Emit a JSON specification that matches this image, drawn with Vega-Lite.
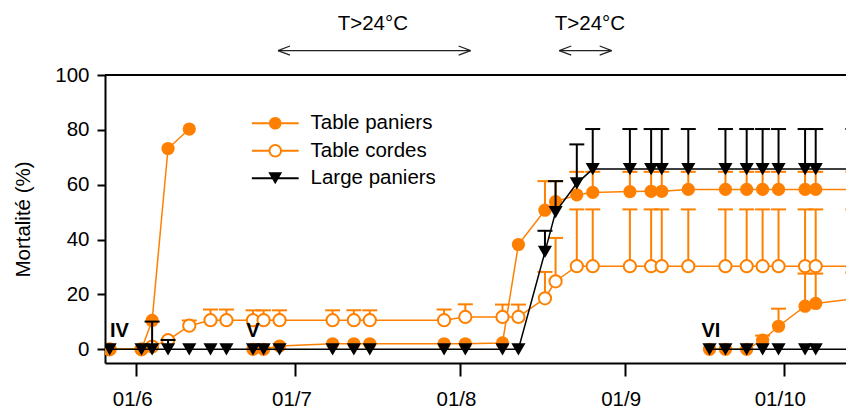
{
  "$schema": "https://vega.github.io/schema/vega-lite/v6.json",
  "width": 741,
  "height": 288,
  "autosize": {"type": "none"},
  "padding": {"left": 105, "top": 75, "right": 0, "bottom": 46},
  "background": "white",
  "config": {
    "view": {"stroke": null},
    "font": "Liberation Sans",
    "axis": {"grid": false, "domainColor": "black", "domainWidth": 2, "tickColor": "black", "tickWidth": 2, "labelFont": "Liberation Sans", "labelFontSize": 20.5, "labelColor": "black", "labelFlush": false, "titleFont": "Liberation Sans", "titleFontSize": 20.5, "titleFontWeight": "normal", "titleColor": "black"},
    "axisX": {"tickSize": 13, "labelPadding": 13, "labelOffset": -4},
    "axisY": {"tickSize": 8, "labelPadding": 8, "titleX": -82, "titleY": 144, "titleAngle": -90, "titleAlign": "center", "titleBaseline": "middle"}
  },
  "datasets": {
    "pts": [
      {"series": "Table paniers", "batch": "P4", "date": "2008-05-27", "value": 0},
      {"series": "Table paniers", "batch": "P4", "date": "2008-06-02", "value": 0},
      {"series": "Table paniers", "batch": "P4", "date": "2008-06-04", "value": 10.5},
      {"series": "Table paniers", "batch": "P4", "date": "2008-06-07", "value": 73.2},
      {"series": "Table paniers", "batch": "P4", "date": "2008-06-11", "value": 80.3},
      {"series": "Table paniers", "batch": "P5", "date": "2008-06-23", "value": 0},
      {"series": "Table paniers", "batch": "P5", "date": "2008-06-25", "value": 0},
      {"series": "Table paniers", "batch": "P5", "date": "2008-06-28", "value": 1.2},
      {"series": "Table paniers", "batch": "P5", "date": "2008-07-08", "value": 2},
      {"series": "Table paniers", "batch": "P5", "date": "2008-07-12", "value": 2},
      {"series": "Table paniers", "batch": "P5", "date": "2008-07-15", "value": 2},
      {"series": "Table paniers", "batch": "P5", "date": "2008-07-29", "value": 2},
      {"series": "Table paniers", "batch": "P5", "date": "2008-08-02", "value": 2},
      {"series": "Table paniers", "batch": "P5", "date": "2008-08-09", "value": 2.3},
      {"series": "Table paniers", "batch": "P5", "date": "2008-08-12", "value": 38.2},
      {"series": "Table paniers", "batch": "P5", "date": "2008-08-17", "value": 50.7, "upper": 61.3},
      {"series": "Table paniers", "batch": "P5", "date": "2008-08-19", "value": 53.8, "upper": 61.3},
      {"series": "Table paniers", "batch": "P5", "date": "2008-08-23", "value": 56.3, "upper": 64.7},
      {"series": "Table paniers", "batch": "P5", "date": "2008-08-26", "value": 57.2, "upper": 64.7},
      {"series": "Table paniers", "batch": "P5", "date": "2008-09-02", "value": 57.5, "upper": 64.7},
      {"series": "Table paniers", "batch": "P5", "date": "2008-09-06", "value": 57.6, "upper": 64.7},
      {"series": "Table paniers", "batch": "P5", "date": "2008-09-08", "value": 57.6, "upper": 64.7},
      {"series": "Table paniers", "batch": "P5", "date": "2008-09-13", "value": 58.3, "upper": 64.7},
      {"series": "Table paniers", "batch": "P5", "date": "2008-09-20", "value": 58.3, "upper": 64.7},
      {"series": "Table paniers", "batch": "P5", "date": "2008-09-24", "value": 58.3, "upper": 64.7},
      {"series": "Table paniers", "batch": "P5", "date": "2008-09-27", "value": 58.3, "upper": 64.7},
      {"series": "Table paniers", "batch": "P5", "date": "2008-09-30", "value": 58.3, "upper": 64.7},
      {"series": "Table paniers", "batch": "P5", "date": "2008-10-05", "value": 58.3, "upper": 64.7},
      {"series": "Table paniers", "batch": "P5", "date": "2008-10-07", "value": 58.3, "upper": 64.7},
      {"series": "Table paniers", "batch": "P5", "date": "2008-10-14", "value": 58.3, "upper": 64.7},
      {"series": "Table paniers", "batch": "P6", "date": "2008-09-17", "value": 0},
      {"series": "Table paniers", "batch": "P6", "date": "2008-09-20", "value": 0},
      {"series": "Table paniers", "batch": "P6", "date": "2008-09-24", "value": 0},
      {"series": "Table paniers", "batch": "P6", "date": "2008-09-27", "value": 3.3, "upper": 5},
      {"series": "Table paniers", "batch": "P6", "date": "2008-09-30", "value": 8.4, "upper": 14.8},
      {"series": "Table paniers", "batch": "P6", "date": "2008-10-05", "value": 15.7, "upper": 27.6},
      {"series": "Table paniers", "batch": "P6", "date": "2008-10-07", "value": 16.7, "upper": 27.6},
      {"series": "Table paniers", "batch": "P6", "date": "2008-10-14", "value": 18.4, "upper": 28},
      {"series": "Table cordes", "batch": "C", "date": "2008-05-27", "value": 0},
      {"series": "Table cordes", "batch": "C", "date": "2008-06-02", "value": 0},
      {"series": "Table cordes", "batch": "C", "date": "2008-06-04", "value": 1},
      {"series": "Table cordes", "batch": "C", "date": "2008-06-07", "value": 3.3},
      {"series": "Table cordes", "batch": "C", "date": "2008-06-11", "value": 8.6, "upper": 10.5},
      {"series": "Table cordes", "batch": "C", "date": "2008-06-15", "value": 10.6, "upper": 14.5},
      {"series": "Table cordes", "batch": "C", "date": "2008-06-18", "value": 10.6, "upper": 14.5},
      {"series": "Table cordes", "batch": "C", "date": "2008-06-23", "value": 10.6, "upper": 14.2},
      {"series": "Table cordes", "batch": "C", "date": "2008-06-25", "value": 10.6, "upper": 14.2},
      {"series": "Table cordes", "batch": "C", "date": "2008-06-28", "value": 10.6, "upper": 14.2},
      {"series": "Table cordes", "batch": "C", "date": "2008-07-08", "value": 10.6, "upper": 14.2},
      {"series": "Table cordes", "batch": "C", "date": "2008-07-12", "value": 10.6, "upper": 14.2},
      {"series": "Table cordes", "batch": "C", "date": "2008-07-15", "value": 10.6, "upper": 14.2},
      {"series": "Table cordes", "batch": "C", "date": "2008-07-29", "value": 10.6, "upper": 14.5},
      {"series": "Table cordes", "batch": "C", "date": "2008-08-02", "value": 11.8, "upper": 16.4},
      {"series": "Table cordes", "batch": "C", "date": "2008-08-09", "value": 11.8, "upper": 16.3},
      {"series": "Table cordes", "batch": "C", "date": "2008-08-12", "value": 11.8, "upper": 16.3},
      {"series": "Table cordes", "batch": "C", "date": "2008-08-17", "value": 18.6, "upper": 28.2},
      {"series": "Table cordes", "batch": "C", "date": "2008-08-19", "value": 24.8, "upper": 40.6},
      {"series": "Table cordes", "batch": "C", "date": "2008-08-23", "value": 30.3, "upper": 51},
      {"series": "Table cordes", "batch": "C", "date": "2008-08-26", "value": 30.3, "upper": 51},
      {"series": "Table cordes", "batch": "C", "date": "2008-09-02", "value": 30.3, "upper": 51},
      {"series": "Table cordes", "batch": "C", "date": "2008-09-06", "value": 30.3, "upper": 51},
      {"series": "Table cordes", "batch": "C", "date": "2008-09-08", "value": 30.3, "upper": 51},
      {"series": "Table cordes", "batch": "C", "date": "2008-09-13", "value": 30.3, "upper": 51},
      {"series": "Table cordes", "batch": "C", "date": "2008-09-20", "value": 30.3, "upper": 51},
      {"series": "Table cordes", "batch": "C", "date": "2008-09-24", "value": 30.3, "upper": 51},
      {"series": "Table cordes", "batch": "C", "date": "2008-09-27", "value": 30.3, "upper": 51},
      {"series": "Table cordes", "batch": "C", "date": "2008-09-30", "value": 30.3, "upper": 51},
      {"series": "Table cordes", "batch": "C", "date": "2008-10-05", "value": 30.3, "upper": 51},
      {"series": "Table cordes", "batch": "C", "date": "2008-10-07", "value": 30.3, "upper": 51},
      {"series": "Table cordes", "batch": "C", "date": "2008-10-14", "value": 30.3, "upper": 51},
      {"series": "Large paniers", "batch": "L", "date": "2008-05-27", "value": 0},
      {"series": "Large paniers", "batch": "L", "date": "2008-06-02", "value": 0},
      {"series": "Large paniers", "batch": "L", "date": "2008-06-04", "value": 0, "upper": 10.1},
      {"series": "Large paniers", "batch": "L", "date": "2008-06-07", "value": 0, "upper": 3.4},
      {"series": "Large paniers", "batch": "L", "date": "2008-06-11", "value": 0},
      {"series": "Large paniers", "batch": "L", "date": "2008-06-15", "value": 0},
      {"series": "Large paniers", "batch": "L", "date": "2008-06-18", "value": 0},
      {"series": "Large paniers", "batch": "L", "date": "2008-06-23", "value": 0},
      {"series": "Large paniers", "batch": "L", "date": "2008-06-25", "value": 0},
      {"series": "Large paniers", "batch": "L", "date": "2008-06-28", "value": 0},
      {"series": "Large paniers", "batch": "L", "date": "2008-07-08", "value": 0},
      {"series": "Large paniers", "batch": "L", "date": "2008-07-12", "value": 0},
      {"series": "Large paniers", "batch": "L", "date": "2008-07-15", "value": 0},
      {"series": "Large paniers", "batch": "L", "date": "2008-07-29", "value": 0},
      {"series": "Large paniers", "batch": "L", "date": "2008-08-02", "value": 0},
      {"series": "Large paniers", "batch": "L", "date": "2008-08-09", "value": 0},
      {"series": "Large paniers", "batch": "L", "date": "2008-08-12", "value": 0},
      {"series": "Large paniers", "batch": "L", "date": "2008-08-17", "value": 35.5, "upper": 43.2},
      {"series": "Large paniers", "batch": "L", "date": "2008-08-19", "value": 50, "upper": 61.3},
      {"series": "Large paniers", "batch": "L", "date": "2008-08-23", "value": 60.5, "upper": 74.7},
      {"series": "Large paniers", "batch": "L", "date": "2008-08-26", "value": 65.7, "upper": 80.3},
      {"series": "Large paniers", "batch": "L", "date": "2008-09-02", "value": 65.7, "upper": 80.3},
      {"series": "Large paniers", "batch": "L", "date": "2008-09-06", "value": 65.7, "upper": 80.3},
      {"series": "Large paniers", "batch": "L", "date": "2008-09-08", "value": 65.7, "upper": 80.3},
      {"series": "Large paniers", "batch": "L", "date": "2008-09-13", "value": 65.7, "upper": 80.3},
      {"series": "Large paniers", "batch": "L", "date": "2008-09-20", "value": 65.7, "upper": 80.3},
      {"series": "Large paniers", "batch": "L", "date": "2008-09-24", "value": 65.7, "upper": 80.3},
      {"series": "Large paniers", "batch": "L", "date": "2008-09-27", "value": 65.7, "upper": 80.3},
      {"series": "Large paniers", "batch": "L", "date": "2008-09-30", "value": 65.7, "upper": 80.3},
      {"series": "Large paniers", "batch": "L", "date": "2008-10-05", "value": 65.7, "upper": 80.3},
      {"series": "Large paniers", "batch": "L", "date": "2008-10-07", "value": 65.7, "upper": 80.3},
      {"series": "Large paniers", "batch": "L", "date": "2008-10-14", "value": 65.7, "upper": 80.3},
      {"series": "Large paniers", "batch": "L6", "date": "2008-09-17", "value": 0},
      {"series": "Large paniers", "batch": "L6", "date": "2008-09-20", "value": 0},
      {"series": "Large paniers", "batch": "L6", "date": "2008-09-24", "value": 0},
      {"series": "Large paniers", "batch": "L6", "date": "2008-09-27", "value": 0},
      {"series": "Large paniers", "batch": "L6", "date": "2008-09-30", "value": 0},
      {"series": "Large paniers", "batch": "L6", "date": "2008-10-05", "value": 0},
      {"series": "Large paniers", "batch": "L6", "date": "2008-10-07", "value": 0},
      {"series": "Large paniers", "batch": "L6", "date": "2008-10-14", "value": 0}
    ],
    "arrows": [
      {"start": "2008-06-27T17:00:00Z", "end": "2008-08-03T00:00:00Z", "value": 108.9},
      {"start": "2008-08-19T16:30:00Z", "end": "2008-08-29T13:40:00Z", "value": 108.9}
    ],
    "notes": [
      {"kind": "temp", "date": "2008-07-15T14:00:00Z", "value": 116.4, "text": "T>24°C"},
      {"kind": "temp", "date": "2008-08-25T11:30:00Z", "value": 116.4, "text": "T>24°C"},
      {"kind": "batch", "date": "2008-05-28T20:00:00Z", "value": 4.6, "text": "IV"},
      {"kind": "batch", "date": "2008-06-23T00:00:00Z", "value": 4.6, "text": "V"},
      {"kind": "batch", "date": "2008-09-17T06:00:00Z", "value": 4.6, "text": "VI"}
    ]
  },
  "layer": [
    {
      "data": {"name": "pts"},
      "mark": {"type": "rule", "color": "black", "strokeWidth": 2},
      "encoding": {
        "y": {"datum": 100, "type": "quantitative", "scale": {"domain": [-5, 100], "nice": false, "zero": false}, "axis": {"values": [0, 20, 40, 60, 80, 100], "title": "Mortalité (%)"}}
      }
    },
    {
      "data": {"name": "pts"},
      "transform": [{"filter": "datum.series != 'Large paniers' && isValid(datum.upper)"}],
      "mark": {"type": "rule", "color": "#ff8000", "strokeWidth": 2, "clip": true},
      "encoding": {
        "x": {"field": "date", "type": "temporal", "scale": {"type": "utc", "domain": [{"year": 2008, "month": 5, "date": 26, "hours": 3, "utc": true}, {"year": 2008, "month": 10, "date": 12, "hours": 17, "utc": true}]}, "axis": {"values": [{"year": 2008, "month": 6, "date": 1, "utc": true}, {"year": 2008, "month": 7, "date": 1, "utc": true}, {"year": 2008, "month": 8, "date": 1, "utc": true}, {"year": 2008, "month": 9, "date": 1, "utc": true}, {"year": 2008, "month": 10, "date": 1, "utc": true}], "format": "%d/%-m", "title": null}},
        "y": {"field": "value", "type": "quantitative", "scale": {"domain": [-5, 100], "nice": false, "zero": false}, "axis": {"values": [0, 20, 40, 60, 80, 100], "title": "Mortalité (%)"}},
        "y2": {"field": "upper"}
      }
    },
    {
      "data": {"name": "pts"},
      "transform": [{"filter": "datum.series != 'Large paniers' && isValid(datum.upper)"}],
      "mark": {"type": "tick", "orient": "horizontal", "color": "#ff8000", "size": 15, "thickness": 2, "opacity": 1, "clip": true},
      "encoding": {
        "x": {"field": "date", "type": "temporal", "scale": {"type": "utc", "domain": [{"year": 2008, "month": 5, "date": 26, "hours": 3, "utc": true}, {"year": 2008, "month": 10, "date": 12, "hours": 17, "utc": true}]}, "axis": {"values": [{"year": 2008, "month": 6, "date": 1, "utc": true}, {"year": 2008, "month": 7, "date": 1, "utc": true}, {"year": 2008, "month": 8, "date": 1, "utc": true}, {"year": 2008, "month": 9, "date": 1, "utc": true}, {"year": 2008, "month": 10, "date": 1, "utc": true}], "format": "%d/%-m", "title": null}},
        "y": {"field": "upper", "type": "quantitative", "scale": {"domain": [-5, 100], "nice": false, "zero": false}, "axis": {"values": [0, 20, 40, 60, 80, 100], "title": "Mortalité (%)"}}
      }
    },
    {
      "data": {"name": "pts"},
      "transform": [{"filter": "datum.series != 'Large paniers'"}],
      "mark": {"type": "line", "color": "#ff8000", "strokeWidth": 1.5, "clip": true},
      "encoding": {
        "x": {"field": "date", "type": "temporal", "scale": {"type": "utc", "domain": [{"year": 2008, "month": 5, "date": 26, "hours": 3, "utc": true}, {"year": 2008, "month": 10, "date": 12, "hours": 17, "utc": true}]}, "axis": {"values": [{"year": 2008, "month": 6, "date": 1, "utc": true}, {"year": 2008, "month": 7, "date": 1, "utc": true}, {"year": 2008, "month": 8, "date": 1, "utc": true}, {"year": 2008, "month": 9, "date": 1, "utc": true}, {"year": 2008, "month": 10, "date": 1, "utc": true}], "format": "%d/%-m", "title": null}},
        "y": {"field": "value", "type": "quantitative", "scale": {"domain": [-5, 100], "nice": false, "zero": false}, "axis": {"values": [0, 20, 40, 60, 80, 100], "title": "Mortalité (%)"}},
        "detail": {"field": "batch"}
      }
    },
    {
      "data": {"name": "pts"},
      "transform": [{"filter": "datum.series == 'Table cordes'"}],
      "mark": {"type": "point", "shape": "circle", "filled": true, "fill": "white", "stroke": "#ff8000", "strokeWidth": 2, "size": 150, "opacity": 1, "clip": true},
      "encoding": {
        "x": {"field": "date", "type": "temporal", "scale": {"type": "utc", "domain": [{"year": 2008, "month": 5, "date": 26, "hours": 3, "utc": true}, {"year": 2008, "month": 10, "date": 12, "hours": 17, "utc": true}]}, "axis": {"values": [{"year": 2008, "month": 6, "date": 1, "utc": true}, {"year": 2008, "month": 7, "date": 1, "utc": true}, {"year": 2008, "month": 8, "date": 1, "utc": true}, {"year": 2008, "month": 9, "date": 1, "utc": true}, {"year": 2008, "month": 10, "date": 1, "utc": true}], "format": "%d/%-m", "title": null}},
        "y": {"field": "value", "type": "quantitative", "scale": {"domain": [-5, 100], "nice": false, "zero": false}, "axis": {"values": [0, 20, 40, 60, 80, 100], "title": "Mortalité (%)"}}
      }
    },
    {
      "data": {"name": "pts"},
      "transform": [{"filter": "datum.series == 'Table paniers'"}],
      "mark": {"type": "point", "shape": "circle", "filled": true, "color": "#ff8000", "size": 175, "opacity": 1, "clip": true},
      "encoding": {
        "x": {"field": "date", "type": "temporal", "scale": {"type": "utc", "domain": [{"year": 2008, "month": 5, "date": 26, "hours": 3, "utc": true}, {"year": 2008, "month": 10, "date": 12, "hours": 17, "utc": true}]}, "axis": {"values": [{"year": 2008, "month": 6, "date": 1, "utc": true}, {"year": 2008, "month": 7, "date": 1, "utc": true}, {"year": 2008, "month": 8, "date": 1, "utc": true}, {"year": 2008, "month": 9, "date": 1, "utc": true}, {"year": 2008, "month": 10, "date": 1, "utc": true}], "format": "%d/%-m", "title": null}},
        "y": {"field": "value", "type": "quantitative", "scale": {"domain": [-5, 100], "nice": false, "zero": false}, "axis": {"values": [0, 20, 40, 60, 80, 100], "title": "Mortalité (%)"}}
      }
    },
    {
      "data": {"name": "pts"},
      "transform": [{"filter": "datum.series == 'Large paniers' && isValid(datum.upper)"}],
      "mark": {"type": "rule", "color": "black", "strokeWidth": 2, "clip": true},
      "encoding": {
        "x": {"field": "date", "type": "temporal", "scale": {"type": "utc", "domain": [{"year": 2008, "month": 5, "date": 26, "hours": 3, "utc": true}, {"year": 2008, "month": 10, "date": 12, "hours": 17, "utc": true}]}, "axis": {"values": [{"year": 2008, "month": 6, "date": 1, "utc": true}, {"year": 2008, "month": 7, "date": 1, "utc": true}, {"year": 2008, "month": 8, "date": 1, "utc": true}, {"year": 2008, "month": 9, "date": 1, "utc": true}, {"year": 2008, "month": 10, "date": 1, "utc": true}], "format": "%d/%-m", "title": null}},
        "y": {"field": "value", "type": "quantitative", "scale": {"domain": [-5, 100], "nice": false, "zero": false}, "axis": {"values": [0, 20, 40, 60, 80, 100], "title": "Mortalité (%)"}},
        "y2": {"field": "upper"}
      }
    },
    {
      "data": {"name": "pts"},
      "transform": [{"filter": "datum.series == 'Large paniers' && isValid(datum.upper)"}],
      "mark": {"type": "tick", "orient": "horizontal", "color": "black", "size": 15, "thickness": 2, "opacity": 1, "clip": true},
      "encoding": {
        "x": {"field": "date", "type": "temporal", "scale": {"type": "utc", "domain": [{"year": 2008, "month": 5, "date": 26, "hours": 3, "utc": true}, {"year": 2008, "month": 10, "date": 12, "hours": 17, "utc": true}]}, "axis": {"values": [{"year": 2008, "month": 6, "date": 1, "utc": true}, {"year": 2008, "month": 7, "date": 1, "utc": true}, {"year": 2008, "month": 8, "date": 1, "utc": true}, {"year": 2008, "month": 9, "date": 1, "utc": true}, {"year": 2008, "month": 10, "date": 1, "utc": true}], "format": "%d/%-m", "title": null}},
        "y": {"field": "upper", "type": "quantitative", "scale": {"domain": [-5, 100], "nice": false, "zero": false}, "axis": {"values": [0, 20, 40, 60, 80, 100], "title": "Mortalité (%)"}}
      }
    },
    {
      "data": {"name": "pts"},
      "transform": [{"filter": "datum.series == 'Large paniers'"}],
      "mark": {"type": "line", "color": "black", "strokeWidth": 1.5, "clip": true},
      "encoding": {
        "x": {"field": "date", "type": "temporal", "scale": {"type": "utc", "domain": [{"year": 2008, "month": 5, "date": 26, "hours": 3, "utc": true}, {"year": 2008, "month": 10, "date": 12, "hours": 17, "utc": true}]}, "axis": {"values": [{"year": 2008, "month": 6, "date": 1, "utc": true}, {"year": 2008, "month": 7, "date": 1, "utc": true}, {"year": 2008, "month": 8, "date": 1, "utc": true}, {"year": 2008, "month": 9, "date": 1, "utc": true}, {"year": 2008, "month": 10, "date": 1, "utc": true}], "format": "%d/%-m", "title": null}},
        "y": {"field": "value", "type": "quantitative", "scale": {"domain": [-5, 100], "nice": false, "zero": false}, "axis": {"values": [0, 20, 40, 60, 80, 100], "title": "Mortalité (%)"}},
        "detail": {"field": "batch"}
      }
    },
    {
      "data": {"name": "pts"},
      "transform": [{"filter": "datum.series == 'Large paniers'"}],
      "mark": {"type": "point", "shape": "triangle-down", "filled": true, "color": "black", "size": 200, "opacity": 1, "clip": true},
      "encoding": {
        "x": {"field": "date", "type": "temporal", "scale": {"type": "utc", "domain": [{"year": 2008, "month": 5, "date": 26, "hours": 3, "utc": true}, {"year": 2008, "month": 10, "date": 12, "hours": 17, "utc": true}]}, "axis": {"values": [{"year": 2008, "month": 6, "date": 1, "utc": true}, {"year": 2008, "month": 7, "date": 1, "utc": true}, {"year": 2008, "month": 8, "date": 1, "utc": true}, {"year": 2008, "month": 9, "date": 1, "utc": true}, {"year": 2008, "month": 10, "date": 1, "utc": true}], "format": "%d/%-m", "title": null}},
        "y": {"field": "value", "type": "quantitative", "scale": {"domain": [-5, 100], "nice": false, "zero": false}, "axis": {"values": [0, 20, 40, 60, 80, 100], "title": "Mortalité (%)"}}
      }
    },
    {
      "data": {"name": "pts"},
      "mark": {"type": "point", "filled": true, "opacity": 1, "size": 0, "clip": true},
      "encoding": {
        "x": {"field": "date", "type": "temporal", "scale": {"type": "utc", "domain": [{"year": 2008, "month": 5, "date": 26, "hours": 3, "utc": true}, {"year": 2008, "month": 10, "date": 12, "hours": 17, "utc": true}]}, "axis": {"values": [{"year": 2008, "month": 6, "date": 1, "utc": true}, {"year": 2008, "month": 7, "date": 1, "utc": true}, {"year": 2008, "month": 8, "date": 1, "utc": true}, {"year": 2008, "month": 9, "date": 1, "utc": true}, {"year": 2008, "month": 10, "date": 1, "utc": true}], "format": "%d/%-m", "title": null}},
        "y": {"field": "value", "type": "quantitative", "scale": {"domain": [-5, 100], "nice": false, "zero": false}, "axis": {"values": [0, 20, 40, 60, 80, 100], "title": "Mortalité (%)"}},
        "shape": {"field": "series", "type": "nominal",
          "scale": {"domain": ["Table paniers", "Table cordes", "Large paniers"], "range": [
            "M-3.9,-0.17H-1V0.17H-3.9ZM1,-0.17H3.9V0.17H1ZM1.05,0A1.05,1.05,0,1,1,-1.05,0A1.05,1.05,0,1,1,1.05,0Z",
            "M-3.9,-0.17H-1.1V0.17H-3.9ZM1.1,-0.17H3.9V0.17H1.1ZM1.12,0A1.12,1.12,0,1,1,-1.12,0A1.12,1.12,0,1,1,1.12,0ZM0.8,0A0.8,0.8,0,1,0,-0.8,0A0.8,0.8,0,1,0,0.8,0Z",
            "M-3.9,-0.17H-0.5V0.17H-3.9ZM0.5,-0.17H3.9V0.17H0.5ZM-1.15,-1L1.15,-1L0,1Z"]},
          "legend": {"title": null, "orient": "none", "legendX": 160, "legendY": 38, "padding": 0, "labelFont": "Liberation Sans", "labelFontSize": 20.5, "labelColor": "black", "labelLimit": 400, "labelOffset": 25, "symbolSize": 144, "symbolStrokeWidth": 0, "symbolOpacity": 1, "rowPadding": 6.5}},
        "color": {"field": "series", "type": "nominal",
          "scale": {"domain": ["Table paniers", "Table cordes", "Large paniers"], "range": ["#ff8000", "#ff8000", "#000000"]},
          "legend": {"title": null, "orient": "none", "legendX": 160, "legendY": 38, "padding": 0, "labelFont": "Liberation Sans", "labelFontSize": 20.5, "labelColor": "black", "labelLimit": 400, "labelOffset": 25, "symbolSize": 144, "symbolStrokeWidth": 0, "symbolOpacity": 1, "rowPadding": 6.5}}
      }
    },
    {
      "data": {"name": "arrows"},
      "mark": {"type": "rule", "color": "#222222", "strokeWidth": 1.2},
      "encoding": {
        "x": {"field": "start", "type": "temporal", "scale": {"type": "utc", "domain": [{"year": 2008, "month": 5, "date": 26, "hours": 3, "utc": true}, {"year": 2008, "month": 10, "date": 12, "hours": 17, "utc": true}]}, "axis": {"values": [{"year": 2008, "month": 6, "date": 1, "utc": true}, {"year": 2008, "month": 7, "date": 1, "utc": true}, {"year": 2008, "month": 8, "date": 1, "utc": true}, {"year": 2008, "month": 9, "date": 1, "utc": true}, {"year": 2008, "month": 10, "date": 1, "utc": true}], "format": "%d/%-m", "title": null}},
        "x2": {"field": "end"},
        "y": {"field": "value", "type": "quantitative", "scale": {"domain": [-5, 100], "nice": false, "zero": false}, "axis": {"values": [0, 20, 40, 60, 80, 100], "title": "Mortalité (%)"}}
      }
    },
    {
      "data": {"name": "arrows"},
      "mark": {"type": "point", "shape": "M0,0L1,-0.38M0,0L1,0.38", "filled": false, "stroke": "#222222", "strokeWidth": 1.2, "size": 576, "opacity": 1},
      "encoding": {
        "x": {"field": "start", "type": "temporal", "scale": {"type": "utc", "domain": [{"year": 2008, "month": 5, "date": 26, "hours": 3, "utc": true}, {"year": 2008, "month": 10, "date": 12, "hours": 17, "utc": true}]}, "axis": {"values": [{"year": 2008, "month": 6, "date": 1, "utc": true}, {"year": 2008, "month": 7, "date": 1, "utc": true}, {"year": 2008, "month": 8, "date": 1, "utc": true}, {"year": 2008, "month": 9, "date": 1, "utc": true}, {"year": 2008, "month": 10, "date": 1, "utc": true}], "format": "%d/%-m", "title": null}},
        "y": {"field": "value", "type": "quantitative", "scale": {"domain": [-5, 100], "nice": false, "zero": false}, "axis": {"values": [0, 20, 40, 60, 80, 100], "title": "Mortalité (%)"}}
      }
    },
    {
      "data": {"name": "arrows"},
      "mark": {"type": "point", "shape": "M0,0L-1,-0.38M0,0L-1,0.38", "filled": false, "stroke": "#222222", "strokeWidth": 1.2, "size": 576, "opacity": 1},
      "encoding": {
        "x": {"field": "end", "type": "temporal", "scale": {"type": "utc", "domain": [{"year": 2008, "month": 5, "date": 26, "hours": 3, "utc": true}, {"year": 2008, "month": 10, "date": 12, "hours": 17, "utc": true}]}, "axis": {"values": [{"year": 2008, "month": 6, "date": 1, "utc": true}, {"year": 2008, "month": 7, "date": 1, "utc": true}, {"year": 2008, "month": 8, "date": 1, "utc": true}, {"year": 2008, "month": 9, "date": 1, "utc": true}, {"year": 2008, "month": 10, "date": 1, "utc": true}], "format": "%d/%-m", "title": null}},
        "y": {"field": "value", "type": "quantitative", "scale": {"domain": [-5, 100], "nice": false, "zero": false}, "axis": {"values": [0, 20, 40, 60, 80, 100], "title": "Mortalité (%)"}}
      }
    },
    {
      "data": {"name": "notes"},
      "transform": [{"filter": "datum.kind == 'temp'"}],
      "mark": {"type": "text", "font": "Liberation Sans", "fontSize": 20.5, "color": "black", "align": "center", "baseline": "alphabetic"},
      "encoding": {
        "x": {"field": "date", "type": "temporal", "scale": {"type": "utc", "domain": [{"year": 2008, "month": 5, "date": 26, "hours": 3, "utc": true}, {"year": 2008, "month": 10, "date": 12, "hours": 17, "utc": true}]}, "axis": {"values": [{"year": 2008, "month": 6, "date": 1, "utc": true}, {"year": 2008, "month": 7, "date": 1, "utc": true}, {"year": 2008, "month": 8, "date": 1, "utc": true}, {"year": 2008, "month": 9, "date": 1, "utc": true}, {"year": 2008, "month": 10, "date": 1, "utc": true}], "format": "%d/%-m", "title": null}},
        "y": {"field": "value", "type": "quantitative", "scale": {"domain": [-5, 100], "nice": false, "zero": false}, "axis": {"values": [0, 20, 40, 60, 80, 100], "title": "Mortalité (%)"}},
        "text": {"field": "text"}
      }
    },
    {
      "data": {"name": "notes"},
      "transform": [{"filter": "datum.kind == 'batch'"}],
      "mark": {"type": "text", "font": "Liberation Sans", "fontSize": 20, "fontWeight": "bold", "color": "black", "align": "center", "baseline": "alphabetic"},
      "encoding": {
        "x": {"field": "date", "type": "temporal", "scale": {"type": "utc", "domain": [{"year": 2008, "month": 5, "date": 26, "hours": 3, "utc": true}, {"year": 2008, "month": 10, "date": 12, "hours": 17, "utc": true}]}, "axis": {"values": [{"year": 2008, "month": 6, "date": 1, "utc": true}, {"year": 2008, "month": 7, "date": 1, "utc": true}, {"year": 2008, "month": 8, "date": 1, "utc": true}, {"year": 2008, "month": 9, "date": 1, "utc": true}, {"year": 2008, "month": 10, "date": 1, "utc": true}], "format": "%d/%-m", "title": null}},
        "y": {"field": "value", "type": "quantitative", "scale": {"domain": [-5, 100], "nice": false, "zero": false}, "axis": {"values": [0, 20, 40, 60, 80, 100], "title": "Mortalité (%)"}},
        "text": {"field": "text"}
      }
    }
  ]
}
